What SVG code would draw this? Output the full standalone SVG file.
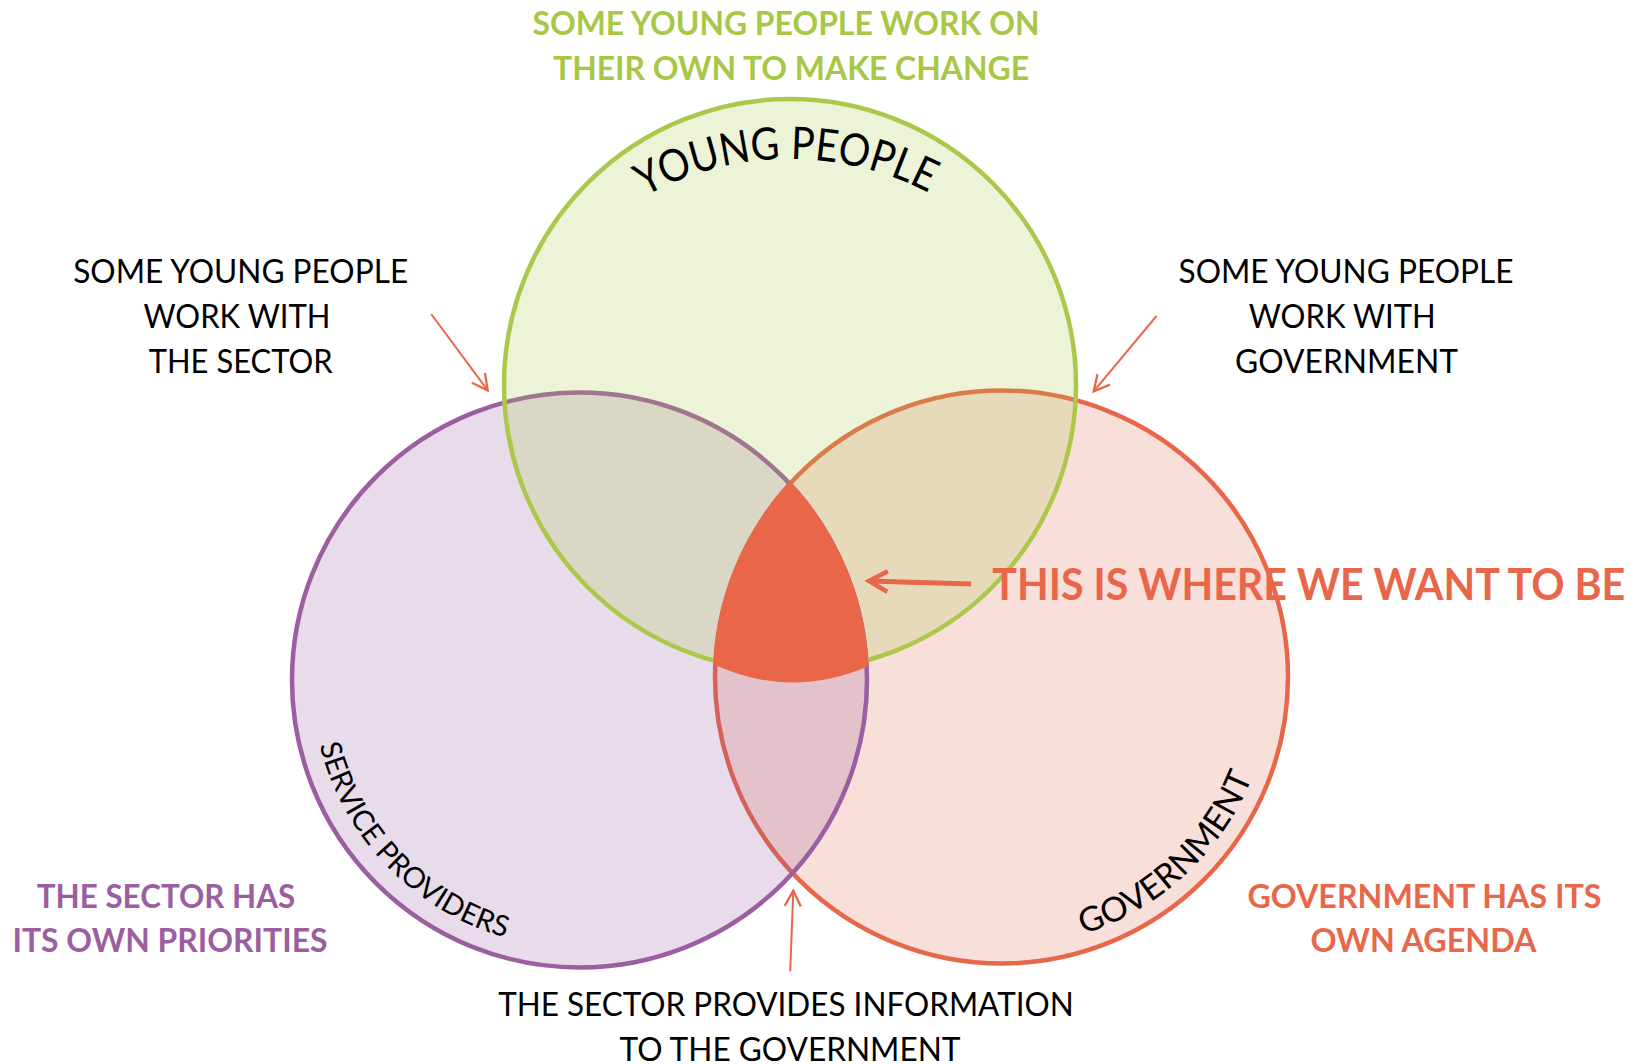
<svg xmlns="http://www.w3.org/2000/svg" width="1641" height="1064" viewBox="0 0 1641 1064">
  <style>
    text { font-family: Lato, "Open Sans", "Liberation Sans", sans-serif; text-anchor: middle; }
    .note { font-size: 33px; fill: #000; }
    .head { font-size: 33px; font-weight: bold; }
    .green { fill: #a9c746; }
    .purple { fill: #9b5fa1; }
    .red { fill: #e8674a; }
    .ring { stroke-width: 4.5; }
    .arc-label { font-size: 29px; fill: #000; }
    .link { fill: none; stroke: #e8674a; stroke-width: 2; marker-end: url(#head); }
    .link-big { fill: none; stroke: #e8674a; stroke-width: 5; marker-end: url(#head-big); }
  </style>
  <defs>
    <marker id="head" viewBox="0 0 14 14" refX="12.5" refY="7" markerWidth="19" markerHeight="19" markerUnits="userSpaceOnUse" orient="auto">
      <path d="M1,1 L12.5,7 L1,13" fill="none" stroke="#e8674a" stroke-width="1.7"/>
    </marker>
    <marker id="head-big" viewBox="0 0 14 14" refX="12" refY="7" markerWidth="26" markerHeight="26" markerUnits="userSpaceOnUse" orient="auto">
      <path d="M2,1.5 L12,7 L2,12.5" fill="none" stroke="#e8674a" stroke-width="2.4"/>
    </marker>
    <!-- baselines for the curved circle titles -->
    <path id="arc-young" d="M490,459 A300,300 0 0 1 1090,459"/>
    <path id="arc-service" d="M312.5,703.4 A268,268 0 0 0 546.8,946"/>
    <path id="arc-government" d="M1025,946 A270,270 0 0 0 1268.2,719.2"/>
  </defs>

  <rect width="1641" height="1064" fill="#ffffff"/>

  <!-- Government circle -->
  <g id="government">
    <circle cx="1001.5" cy="677" r="286.5" fill="#e15f46" fill-opacity="0.2" stroke="#e8674a" class="ring"/>
  </g>

  <!-- Service providers circle -->
  <g id="service-providers">
    <circle cx="579.5" cy="680" r="287.5" fill="#8c5096" fill-opacity="0.2" stroke="#9b5fa1" class="ring"/>
  </g>

  <!-- Young people circle -->
  <g id="young-people">
    <circle cx="790" cy="385" r="286" fill="#a9c94a" fill-opacity="0.22" stroke="#abc84a" class="ring"/>
  </g>

  <!-- Shared centre where all three overlap -->
  <g id="common-ground">
    <path d="M790,484 A286.5,286.5 0 0 0 715.3,663 Q790,697 866.5,665 A287.5,287.5 0 0 0 790,484 Z" fill="#ea6649" stroke="#ea6649" stroke-width="4" stroke-linejoin="round"/>
  </g>

  <!-- Circle titles -->
  <g id="young-people-title">
    <text font-size="45" fill="#000" textLength="296" lengthAdjust="spacingAndGlyphs"><textPath href="#arc-young" startOffset="49.6%">YOUNG PEOPLE</textPath></text>
  </g>
  <g id="service-providers-title">
    <text class="arc-label"><textPath href="#arc-service" startOffset="50%">SERVICE PROVIDERS</textPath></text>
  </g>
  <g id="government-title">
    <text font-size="34" fill="#000"><textPath href="#arc-government" startOffset="50%">GOVERNMENT</textPath></text>
  </g>

  <!-- Annotations -->
  <g id="note-own-change" class="head green">
    <text x="786" y="35" textLength="507" lengthAdjust="spacingAndGlyphs">SOME YOUNG PEOPLE WORK ON</text>
    <text x="791" y="80" textLength="476" lengthAdjust="spacingAndGlyphs">THEIR OWN TO MAKE CHANGE</text>
  </g>

  <g id="note-with-sector" class="note">
    <text x="240.7" y="282.6" textLength="335" lengthAdjust="spacingAndGlyphs">SOME YOUNG PEOPLE</text>
    <text x="237" y="327.6" textLength="187" lengthAdjust="spacingAndGlyphs">WORK WITH</text>
    <text x="240.7" y="372.6" textLength="184" lengthAdjust="spacingAndGlyphs">THE SECTOR</text>
  </g>

  <g id="note-with-government" class="note">
    <text x="1346" y="282.6" textLength="335" lengthAdjust="spacingAndGlyphs">SOME YOUNG PEOPLE</text>
    <text x="1342.3" y="327.6" textLength="187" lengthAdjust="spacingAndGlyphs">WORK WITH</text>
    <text x="1346.5" y="372.6" textLength="223" lengthAdjust="spacingAndGlyphs">GOVERNMENT</text>
  </g>

  <g id="note-target" class="red">
    <text x="1308.8" y="600" font-size="44" font-weight="bold" textLength="633" lengthAdjust="spacingAndGlyphs">THIS IS WHERE WE WANT TO BE</text>
  </g>

  <g id="note-sector-priorities" class="head purple">
    <text x="166" y="907.5" textLength="258.5" lengthAdjust="spacingAndGlyphs">THE SECTOR HAS</text>
    <text x="170" y="952.4" textLength="315" lengthAdjust="spacingAndGlyphs">ITS OWN PRIORITIES</text>
  </g>

  <g id="note-government-agenda" class="head red">
    <text x="1424.4" y="907.5" textLength="354" lengthAdjust="spacingAndGlyphs">GOVERNMENT HAS ITS</text>
    <text x="1423.4" y="952.4" textLength="226" lengthAdjust="spacingAndGlyphs">OWN AGENDA</text>
  </g>

  <g id="note-information" class="note">
    <text x="786" y="1016" textLength="575.6" lengthAdjust="spacingAndGlyphs">THE SECTOR PROVIDES INFORMATION</text>
    <text x="790" y="1061" textLength="341" lengthAdjust="spacingAndGlyphs">TO THE GOVERNMENT</text>
  </g>

  <!-- Pointer arrows -->
  <g id="connectors">
    <line class="link" x1="431.2" y1="314" x2="487.7" y2="390.4"/>
    <line class="link" x1="1156.5" y1="316" x2="1093.7" y2="391.4"/>
    <line class="link" x1="790.2" y1="971.3" x2="793.3" y2="890.7"/>
    <line class="link-big" x1="971" y1="584" x2="869" y2="581"/>
  </g>
</svg>
